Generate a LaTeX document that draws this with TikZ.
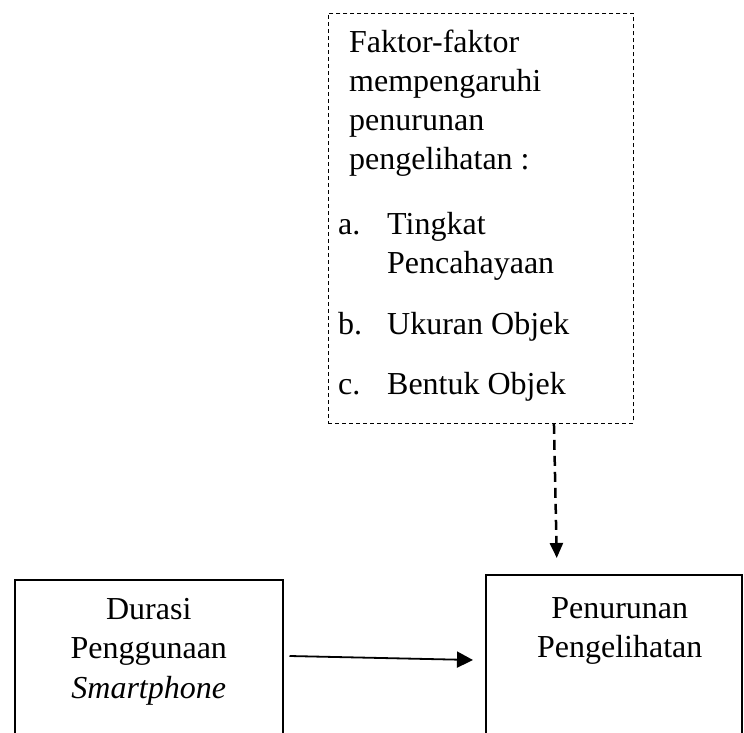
\documentclass[tikz,border=0pt]{standalone}
\usepackage{fontspec}
\setmainfont{Liberation Serif}
\usetikzlibrary{positioning,calc,arrows.meta}

\tikzset{
  solidbox/.style={draw, line width=1.5pt, inner sep=0pt},
  faktorbox/.style={draw, line width=0.9pt, dash pattern=on 4pt off 3pt, inner sep=0pt},
  boxtext/.style={align=center, inner sep=0pt, font=\fontsize{32}{39.5}\selectfont},
  listtext/.style={align=left, inner sep=0pt, font=\fontsize{32}{39}\selectfont},
}

\begin{document}
\begin{tikzpicture}[x=1pt,y=-1pt]
  \clip (0,0) rectangle (744,733);
  % dashed box with the factors
  \node[faktorbox, minimum width=305pt, minimum height=410pt, anchor=north west] (faktor) at (328,13) {};
  \node[listtext, anchor=north west] (faktorText) at (338,30) {%
    \hspace*{11pt}Faktor-faktor\\
    \hspace*{11pt}mempengaruhi\\
    \hspace*{11pt}penurunan\\
    \hspace*{11pt}pengelihatan :\\[26pt]
    \makebox[49pt][l]{a.}Tingkat\\
    \hspace*{49pt}Pencahayaan\\[22pt]
    \makebox[49pt][l]{b.}Ukuran Objek\\[21pt]
    \makebox[49pt][l]{c.}Bentuk Objek};
  % the two boxes, cut off at the bottom
  \node[solidbox, minimum width=268pt, minimum height=200pt, anchor=north west] (durasi) at (14,579) {};
  \node[solidbox, minimum width=256pt, minimum height=200pt, anchor=north west] (penurunan) at (485,574) {};
  \node[boxtext, below=19pt of durasi.north] (durasiText) {Durasi\\Penggunaan\\\textit{Smartphone}};
  \node[boxtext, below=23pt of penurunan.north, xshift=6pt] (penurunanText) {Penurunan\\Pengelihatan};
  % connectors
  \draw[line width=1.8pt, -{Triangle[length=16pt,width=16pt]}] ($(durasi.north east)+(6,77)$) -- ($(penurunan.north west)+(-12,86)$);
  \draw[line width=2.5pt, dash pattern=on 10pt off 6pt, -{Triangle[length=15pt,width=13pt]}] ($(faktor.south)+(73,0)$) -- ($(penurunan.north)+(-57,-16)$);
\end{tikzpicture}
\end{document}
